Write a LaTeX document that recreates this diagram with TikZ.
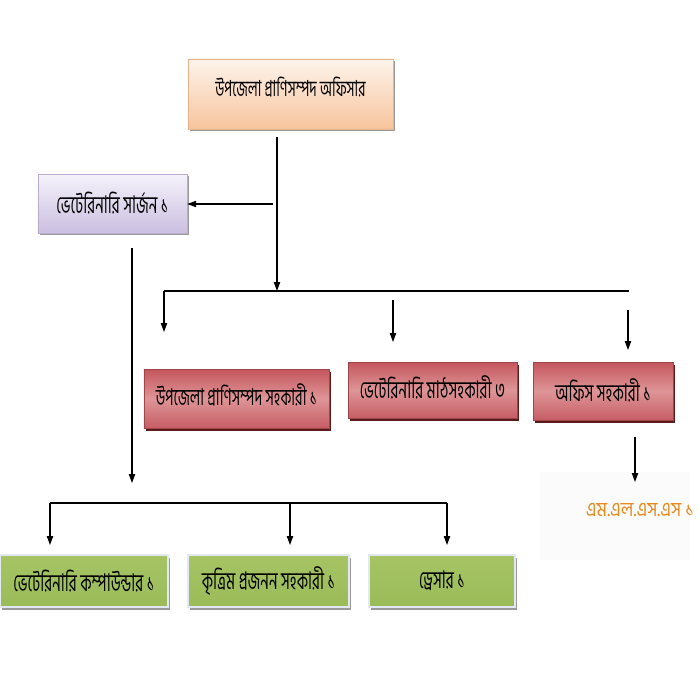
\documentclass[tikz,border=0pt]{standalone}
\usepackage{fontspec}
\newfontfamily\bn[Script=Bengali]{Hind Siliguri}
\usetikzlibrary{arrows.meta}
\newcommand\bt[1]{\scalebox{1}[1.6]{#1}}
\definecolor{peachT}{HTML}{FEF4EC}
\definecolor{peachB}{HTML}{F7C49C}
\definecolor{peachD}{HTML}{E6B48C}
\definecolor{lavT}{HTML}{F5F2FB}
\definecolor{lavB}{HTML}{CBBFE0}
\definecolor{lavD}{HTML}{B9AED0}
\definecolor{redT}{HTML}{C4565D}
\definecolor{redM}{HTML}{DE9597}
\definecolor{redB}{HTML}{C65E65}
\definecolor{redS}{HTML}{5C1C1C}
\definecolor{grnF}{HTML}{9BBB59}
\definecolor{grnT}{HTML}{A6C464}
\definecolor{grnE}{HTML}{E2E9F3}
\definecolor{shd}{HTML}{9A9A9A}
\definecolor{orgT}{HTML}{E8891E}
\tikzset{
  x=0.03cm, y=-0.03cm,
  btxt/.style={font=\bn\fontsize{13}{15}\selectfont, text=black, inner sep=0pt, align=center},
  peachbox/.style={btxt, top color=peachT, bottom color=peachB, draw=peachD, line width=0.4pt,
    preaction={fill=shd, transform canvas={xshift=0.06cm, yshift=-0.06cm}}},
  lavbox/.style={btxt, top color=lavT, bottom color=lavB, draw=lavD, line width=0.4pt,
    preaction={fill=shd, transform canvas={xshift=0.06cm, yshift=-0.06cm}}},
  redbox/.style={btxt, top color=redT, bottom color=redB, middle color=redM, draw=redT!80!black, line width=0.4pt,
    preaction={fill=redS, transform canvas={xshift=0.06cm, yshift=-0.08cm}}},
  grnbox/.style={btxt, top color=grnT, bottom color=grnF, draw=grnE, line width=1.2pt,
    preaction={fill=shd, transform canvas={xshift=0.06cm, yshift=-0.09cm}}},
  conn/.style={line width=0.9pt, black},
  arr/.style={conn, -{Triangle[length=0.27cm, width=0.19cm]}},
}
\begin{document}
\begin{tikzpicture}
\useasboundingbox[fill=white] (0,0) rectangle (700,700);

% faint background behind MLSS
\fill[gray!3] (540,472) rectangle (690,560);

\node[peachbox, font=\bn\fontsize{11.8}{14}\selectfont, minimum width=6.15cm, minimum height=2.1cm] (top) at (290.5,94)
  {\raisebox{0.42cm}{\bt{উপজেলা প্রাণিসম্পদ অফিসার}}};
\node[lavbox, minimum width=4.47cm, minimum height=1.77cm] (surg) at (112.5,203.5)
  {\bt{ভেটেরিনারি সার্জন ১}};
\node[redbox, font=\bn\fontsize{12.4}{14}\selectfont, minimum width=5.55cm, minimum height=1.77cm] (r1) at (236.5,398.5)
  {\raisebox{0.25cm}{\bt{উপজেলা প্রাণিসম্পদ সহকারী ১}}};
\node[redbox, minimum width=5.07cm, minimum height=1.68cm] (r2) at (432.5,390)
  {\raisebox{0.18cm}{\bt{ভেটেরিনারি মাঠসহকারী ৩}}};
\node[redbox, minimum width=4.2cm, minimum height=1.74cm] (r3) at (603,391)
  {\raisebox{0.08cm}{\bt{অফিস সহকারী ১}}};
\node[btxt, text=orgT, font=\bn\fontsize{15}{17}\selectfont] (mlss) at (640,510)
  {\scalebox{1}[1.15]{এম.এল.এস.এস ১}};
\node[grnbox, minimum width=5.04cm, minimum height=1.56cm] (g1) at (84,581)
  {\bt{ভেটেরিনারি কম্পাউন্ডার ১}};
\node[grnbox, minimum width=4.83cm, minimum height=1.56cm] (g2) at (268.5,581)
  {\bt{কৃত্রিম প্রজনন সহকারী ১}};
\node[grnbox, minimum width=4.38cm, minimum height=1.56cm] (g3) at (442,581)
  {\bt{ড্রেসার ১}};

% junction coordinates
\coordinate (t0) at (277,137);
\coordinate (j1) at (277,291);
\coordinate (b0) at (273,204);
\coordinate (busL) at (164,291);
\coordinate (busR) at (629,291);
\coordinate (a1) at (164,332);
\coordinate (m0) at (393,300);
\coordinate (a2) at (393,342);
\coordinate (n0) at (628,310);
\coordinate (a3) at (628,350);
\coordinate (o0) at (635,437);
\coordinate (o1) at (635,482);
\coordinate (s0) at (132,248);
\coordinate (s1) at (132,483);
\coordinate (bbL) at (50,503);
\coordinate (bbM) at (290,503);
\coordinate (bbR) at (447,503);
\coordinate (c1) at (50,545);
\coordinate (c2) at (290,545);
\coordinate (c3) at (447,545);

\draw[arr] (t0) -- (j1);
\draw[arr] (b0) -- (surg.east |- b0);
\draw[conn] (busL) -- (busR);
\draw[arr] (busL) -- (a1);
\draw[arr] (m0) -- (a2);
\draw[arr] (n0) -- (a3);
\draw[arr] (o0) -- (o1);
\draw[arr] (s0) -- (s1);
\draw[conn] (bbL) -- (bbR);
\draw[arr] (bbL) -- (c1);
\draw[arr] (bbM) -- (c2);
\draw[arr] (bbR) -- (c3);
\end{tikzpicture}
\end{document}
